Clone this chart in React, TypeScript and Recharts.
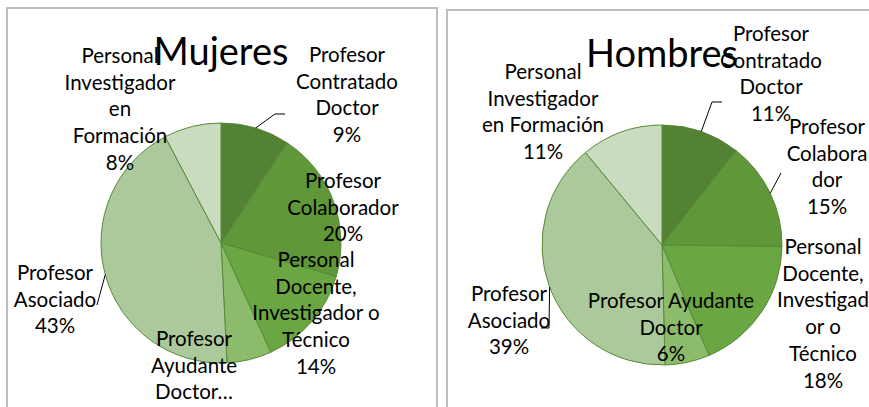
import React from "react";
import { PieChart, Pie, Cell } from "recharts";

const categories = [
  "Profesor Contratado Doctor",
  "Profesor Colaborador",
  "Personal Docente, Investigador o Técnico",
  "Profesor Ayudante Doctor",
  "Profesor Asociado",
  "Personal Investigador en Formación",
];

const mujeresValues = [9.3, 20.2, 13.7, 6.0, 43.1, 7.7];
const hombresValues = [10.6, 14.6, 18.4, 6.0, 39.4, 11.0];

const mujeresLabelLines = [
  ["Profesor", "Contratado", "Doctor"],
  ["Profesor", "Colaborador"],
  ["Personal", "Docente,", "Investigador o", "Técnico"],
  ["Profesor", "Ayudante", "Doctor…"],
  ["Profesor", "Asociado"],
  ["Personal", "Investigador", "en", "Formación"],
];
const mujeresShowPct = [true, true, true, false, true, true];

const hombresLabelLines = [
  ["Profesor", "Contratado", "Doctor"],
  ["Profesor", "Colabora", "dor"],
  ["Personal", "Docente,", "Investigad", "or o", "Técnico"],
  ["Profesor Ayudante", "Doctor"],
  ["Profesor", "Asociado"],
  ["Personal", "Investigador", "en Formación"],
];
const hombresShowPct = [true, true, true, true, true, true];

const colors = ["#548235", "#5f9739", "#6aa641", "#8cbb6c", "#abc99a", "#c9dcc0"];

// label layout: center x offset, first line y offset (relative to pie center), optional leader elbow points
type Layout = { dx: number; dy: number; leader?: [number, number][] };

const mujeresLayout: Layout[] = [
  { dx: 126, dy: -189, leader: [[54, -129], [64, -129]] },
  { dx: 122, dy: -63 },
  { dx: 95, dy: 16 },
  { dx: -27, dy: 95 },
  { dx: -166, dy: 29, leader: [[-124, 62]] },
  { dx: -101, dy: -188 },
];

const hombresLayout: Layout[] = [
  { dx: 109, dy: -212, leader: [[50, -143], [60, -143]] },
  { dx: 165, dy: -119, leader: [[119, -72]] },
  { dx: 161, dy: 1 },
  { dx: 9, dy: 55 },
  { dx: -153, dy: 48, leader: [[-113, 83], [-121, 83]] },
  { dx: -119, dy: -174 },
];

const RADIAN = Math.PI / 180;
const LINE_H = 26.7;
const FONT = "Lato, 'Open Sans', sans-serif";

function makeLabel(lines: string[][], showPct: boolean[], layout: Layout[]) {
  return (props: any) => {
    const { cx, cy, midAngle, outerRadius, percent, index } = props;
    const l = layout[index];
    const textLines = [...lines[index]];
    if (showPct[index]) textLines.push(`${Math.round(percent * 100)}%`);
    const x = cx + l.dx;
    const y0 = cy + l.dy;
    const sx = cx + outerRadius * Math.cos(-midAngle * RADIAN);
    const sy = cy + outerRadius * Math.sin(-midAngle * RADIAN);
    let path = "";
    if (l.leader) {
      path = `M${sx},${sy}` + l.leader.map(([px, py]) => ` L${cx + px},${cy + py}`).join("");
    }
    return (
      <g key={`lbl-${index}`}>
        {path && <path d={path} stroke="#000" strokeWidth={1} fill="none" />}
        <text
          x={x}
          y={y0}
          textAnchor="middle"
          dominantBaseline="central"
          fontFamily={FONT}
          fontSize={20.5}
          fill="#000"
        >
          {textLines.map((t, i) => (
            <tspan key={i} x={x} y={y0 + i * LINE_H}>
              {t}
            </tspan>
          ))}
        </text>
      </g>
    );
  };
}

function Panel({
  title,
  values,
  lines,
  showPct,
  layout,
  left,
  top,
  width,
  cx,
  cy,
}: {
  title: string;
  values: number[];
  lines: string[][];
  showPct: boolean[];
  layout: Layout[];
  left: number;
  top: number;
  width: number;
  cx: number;
  cy: number;
}) {
  const data = categories.map((c, i) => ({ name: c, value: values[i] }));
  return (
    <div
      style={{
        position: "absolute",
        left,
        top,
        width,
        height: 420 - top,
        border: "2px solid #bdbdbd",
        borderBottom: "none",
        boxSizing: "border-box",
        background: "#fff",
      }}
    >
      <PieChart
        width={width - 4}
        height={420 - top}
        margin={{ top: 0, right: 0, bottom: 0, left: 0 }}
        style={{ position: "absolute", left: 0, top: 0 }}
      >
        <Pie
          data={data}
          dataKey="value"
          nameKey="name"
          cx={cx}
          cy={cy}
          outerRadius={120}
          startAngle={90}
          endAngle={-270}
          stroke="#558a37"
          strokeWidth={1}
          isAnimationActive={false}
          labelLine={false}
          label={makeLabel(lines, showPct, layout)}
        >
          {data.map((_, i) => (
            <Cell key={i} fill={colors[i]} />
          ))}
        </Pie>
        <text
          x={cx}
          y={cy - 193}
          textAnchor="middle"
          dominantBaseline="central"
          fontFamily={FONT}
          fontSize={38}
          fill="#000"
        >
          {title}
        </text>
      </PieChart>
    </div>
  );
}

export default function App() {
  return (
    <div style={{ position: "absolute", left: 0, top: 0, width: 869, height: 407, overflow: "hidden", background: "#fff" }}>
      <Panel
        title="Mujeres"
        values={mujeresValues}
        lines={mujeresLabelLines}
        showPct={mujeresShowPct}
        layout={mujeresLayout}
        left={6}
        top={7}
        width={432}
        cx={213}
        cy={234}
      />
      <Panel
        title="Hombres"
        values={hombresValues}
        lines={hombresLabelLines}
        showPct={hombresShowPct}
        layout={hombresLayout}
        left={446}
        top={9}
        width={434}
        cx={214}
        cy={234}
      />
    </div>
  );
}
